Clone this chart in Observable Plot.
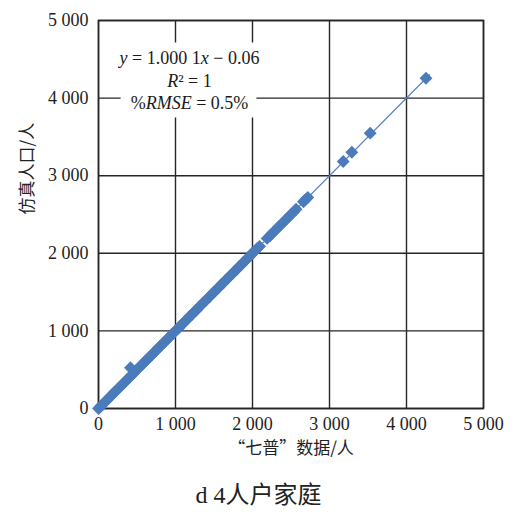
<!DOCTYPE html>
<html>
<head>
<meta charset="utf-8">
<script src="https://cdn.jsdelivr.net/npm/d3@7"></script>
<script src="https://cdn.jsdelivr.net/npm/@observablehq/plot@0.6"></script>
<style>
  html, body { margin: 0; padding: 0; background: #fff; }
  #chart { width: 517px; }
  #caption { width: 517px; text-align: center; font-family: "Liberation Serif", "Noto Sans CJK SC", serif; font-size: 24px; color: #222; line-height: 30px; margin-top: 15px; }
</style>
</head>
<body>
<div id="chart"></div>
<div id="caption"></div>
<script>
// ---- data ----
const xTicks = [0, 1000, 2000, 3000, 4000, 5000];
const yTicks = [0, 1000, 2000, 3000, 4000, 5000];
const tickLabels = ["0", "1 000", "2 000", "3 000", "4 000", "5 000"];

const xLabel = "“七普”数据/人";
const yLabel = "仿真人口/人";
const captionText = "d 4人户家庭";
const annotLines = ["y = 1.000 1x − 0.06", "R² = 1", "%RMSE = 0.5%"];

// census (x) vs simulated (y) population, 4-person households
const censusX = [
  0, 12, 35, 58, 84, 110, 141, 168, 197, 226, 253, 285, 312, 340, 372, 401, 415, 428, 455, 487,
  516, 548, 574, 603, 634, 662, 690, 721, 752, 778, 806, 837, 866, 895, 924, 951, 983,
  1012, 1040, 1071, 1098, 1127, 1158, 1186, 1214, 1245, 1272, 1303, 1331, 1360, 1392,
  1420, 1447, 1478, 1506, 1537, 1565, 1594, 1622, 1653, 1680, 1711, 1740, 1768, 1797,
  1826, 1855, 1884, 1912, 1941, 1970, 1998, 2027, 2058, 2092,
  2190, 2228, 2265, 2301, 2340, 2378, 2415, 2452, 2490, 2528, 2566,
  2662, 2690, 2718,
  3178, 3290, 3528, 4253
];
const simY = [
  0, 11, 36, 57, 85, 108, 142, 167, 199, 224, 255, 284, 313, 338, 374, 400, 525, 429, 453, 489,
  515, 549, 573, 605, 632, 664, 689, 722, 750, 780, 805, 839, 864, 897, 922, 953, 981,
  1014, 1038, 1073, 1096, 1129, 1156, 1188, 1212, 1247, 1270, 1305, 1329, 1362, 1390,
  1422, 1445, 1480, 1504, 1539, 1563, 1596, 1620, 1655, 1678, 1713, 1738, 1770, 1795,
  1828, 1853, 1886, 1910, 1943, 1968, 2000, 2025, 2060, 2090,
  2192, 2226, 2267, 2299, 2342, 2376, 2417, 2450, 2492, 2526, 2568,
  2664, 2692, 2720,
  3183, 3303, 3548, 4256
];

// fitted line y = 1.0001x - 0.06, endpoints
const fitX = [0, 4300];
const fitY = [-0.06, 4300.37];

// ---- build ----
const points = censusX.map((x, i) => ({x, y: simY[i]}));
const fit = fitX.map((x, i) => ({x, y: fitY[i]}));
const fmt = d => tickLabels[xTicks.indexOf(d)];
const fmtY = d => tickLabels[yTicks.indexOf(d)];

const serif = "Liberation Serif, Times New Roman, DejaVu Serif, serif";
const cjk = "Noto Sans CJK SC, sans-serif";
const gridColor = "#262626";
const blue = "#4a7bbb";

const chart = Plot.plot({
  width: 517,
  height: 465,
  marginLeft: 98,
  marginRight: 34,
  marginTop: 20,
  marginBottom: 57,
  style: {fontFamily: serif, fontSize: "18px", color: "#222", background: "#fff"},
  x: {domain: [0, 5000]},
  y: {domain: [0, 5000]},
  marks: [
    Plot.gridX(xTicks, {stroke: gridColor, strokeOpacity: 1, strokeWidth: 1.4}),
    Plot.gridY(yTicks, {stroke: gridColor, strokeOpacity: 1, strokeWidth: 1.4}),
    Plot.frame({stroke: gridColor, strokeWidth: 1.6}),
    Plot.axisX(xTicks, {tickSize: 0, tickPadding: 9, tickFormat: fmt, label: null, fontSize: 18, fontFamily: serif}),
    Plot.axisY(yTicks, {tickSize: 0, tickPadding: 10, tickFormat: fmtY, label: null, fontSize: 18, fontFamily: serif}),
    Plot.line(fit, {x: "x", y: "y", stroke: "#5b82c0", strokeWidth: 1.2}),
    Plot.dot(points, {x: "x", y: "y", symbol: "diamond2", r: 5.8, fill: blue, stroke: "none"}),
    Plot.text([annotLines.join("\n")], {
      text: d => d, frameAnchor: "top-left", dx: 91, dy: 28,
      textAnchor: "middle", lineAnchor: "top", lineHeight: 1.25,
      fontSize: 18, fontFamily: serif, fill: "#1a1a1a"
    }),
    Plot.text([xLabel], {
      text: d => d, frameAnchor: "bottom", dy: 40, lineAnchor: "middle",
      fontFamily: cjk, fontSize: 17, fill: "#222"
    }),
    Plot.text([yLabel], {
      text: d => d, frameAnchor: "left", dx: -71, rotate: -90, lineAnchor: "middle",
      fontFamily: cjk, fontSize: 17, fill: "#222"
    })
  ]
});

document.getElementById("chart").append(chart);
document.getElementById("caption").textContent = captionText;

// italicise variable names in annotation and put a white box behind it
const ag = Array.from(chart.querySelectorAll("g")).filter(g => g.textContent.includes("RMSE") && g.querySelector("text")).pop();
if (ag) {
  const leaves = Array.from(ag.querySelectorAll("tspan, text")).filter(el => el.children.length === 0);
  leaves.forEach(el => {
    const s = el.textContent;
    if (!s) return;
    el.textContent = "";
    s.split(/([A-Za-z]+)/).forEach(part => {
      if (!part) return;
      const t = document.createElementNS("http://www.w3.org/2000/svg", "tspan");
      if (/^[A-Za-z]+$/.test(part)) t.setAttribute("font-style", "italic");
      t.textContent = part;
      el.appendChild(t);
    });
  });
  const bb = ag.getBBox();
  const r = document.createElementNS("http://www.w3.org/2000/svg", "rect");
  r.setAttribute("x", bb.x + 3);
  r.setAttribute("y", bb.y - 6);
  r.setAttribute("width", bb.width - 6);
  r.setAttribute("height", bb.height + 10);
  r.setAttribute("fill", "#fff");
  r.setAttribute("stroke", "none");
  ag.insertBefore(r, ag.firstChild);
}
</script>
</body>
</html>
